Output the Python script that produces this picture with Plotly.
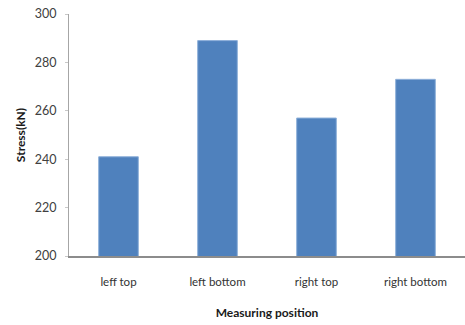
import plotly.graph_objects as go

# Measured stress at each position
positions = ["leff top", "left bottom", "right top", "right bottom"]
stress_kn = [241, 289, 257, 273]

y_ticks = [200, 220, 240, 260, 280, 300]

fig = go.Figure(
    go.Bar(
        x=positions,
        y=stress_kn,
        marker=dict(color="#4F81BD", line=dict(color="#8DAFD9", width=1)),
        width=0.4,
    )
)

fig.update_layout(
    width=465,
    height=325,
    margin=dict(l=69, r=0, t=14, b=69),
    paper_bgcolor="white",
    plot_bgcolor="white",
    showlegend=False,
    font=dict(family="Lato, Open Sans, sans-serif", color="#404040"),
)

fig.update_xaxes(
    showline=True,
    linecolor="#8C8C8C",
    linewidth=1.5,
    showgrid=False,
    ticks="",
    tickfont=dict(size=11.5, color="#333333"),
    ticklabelstandoff=14,
    title=dict(
        text="<b>Measuring position</b>",
        font=dict(size=12, color="#1a1a1a"),
        standoff=22,
    ),
)

fig.update_yaxes(
    range=[200, 300],
    tickvals=y_ticks,
    showline=True,
    linecolor="#A6A6A6",
    linewidth=1,
    showgrid=False,
    ticks="outside",
    ticklen=3,
    tickcolor="#C8C8C8",
    tickfont=dict(size=12.5, color="#404040"),
    ticklabelstandoff=6,
    zeroline=False,
    title=dict(
        text="<b>Stress(kN)</b>",
        font=dict(size=12, color="#1a1a1a"),
        standoff=6,
    ),
)

fig.write_html("out.html")
